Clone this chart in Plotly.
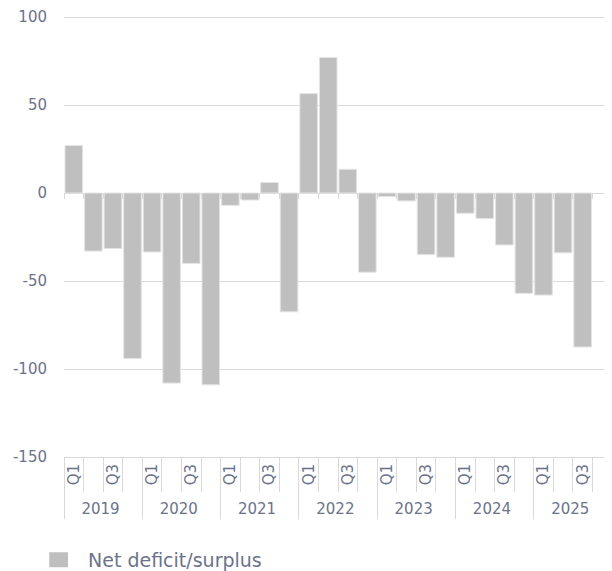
import plotly.graph_objects as go

years = ["2019", "2020", "2021", "2022", "2023", "2024", "2025"]
quarters = ["Q1", "Q2", "Q3", "Q4"]
quarter_labels = ["Q1", " ", "Q3", "  "]  # Q2/Q4 labels are skipped in the original
values = [
    27, -33, -31.5, -94,
    -33.5, -108, -40, -109,
    -7, -4, 6, -67.5,
    56.5, 77, 13.5, -45,
    -2, -4.5, -35, -36.5,
    -11.5, -14.5, -29.5, -57,
    -58, -34, -87.5, None,
]
series_name = "Net deficit/surplus"
y_ticks = [-150, -100, -50, 0, 50, 100]
y_tick_text = ["-150", "-100", "-50", "0", "50", "100"]

outer = [y for y in years for _ in quarters]
inner = [q for _ in years for q in quarter_labels]

TEXT = "#6b7389"
GRID = "#d9d9d9"
FONT = "DejaVu Sans"

fig = go.Figure()
fig.add_trace(go.Bar(
    x=[outer, inner], y=values, name=series_name,
    marker=dict(color="#bfbfbf", line=dict(color="#e4e4e4", width=1)),
    showlegend=False,
))
# dummy trace so the zero-crossing tick axis is drawn
fig.add_trace(go.Scatter(x=[None], y=[None], xaxis="x2", showlegend=False, hoverinfo="skip"))

n = len(values)
y_min, y_max = -150, 100.6  # small headroom so the 100 gridline is drawn
zero_pos = (0 - y_min) / (y_max - y_min)

# page body has an 8px margin, so the figure is sized to fit inside the window
fig.update_layout(
    width=604, height=563,
    margin=dict(l=56, r=0, t=8, b=114),
    paper_bgcolor="white", plot_bgcolor="white",
    font=dict(family=FONT, color=TEXT, size=15),
    bargap=0.1,
    yaxis=dict(
        range=[y_min, y_max], tickvals=y_ticks, ticktext=y_tick_text,
        showgrid=True, gridcolor=GRID, gridwidth=1,
        zeroline=True, zerolinecolor=GRID, zerolinewidth=1,
        tickfont=dict(size=15, color=TEXT), ticks="", ticklabelstandoff=16,
        ticklabeloverflow="allow", automargin=False,
    ),
    xaxis=dict(
        type="multicategory", showline=True, linecolor=GRID, linewidth=1,
        ticks="outside", tickson="boundaries", ticklen=34, tickcolor=GRID,
        dividercolor=GRID, dividerwidth=1,
        tickangle=-90, tickfont=dict(size=15, color=TEXT),
        showgrid=False, automargin=False,
    ),
    xaxis2=dict(
        overlaying="x", anchor="free", position=zero_pos, side="bottom",
        range=[-0.5, n - 0.5], tickvals=[i - 0.5 for i in range(n + 1)],
        ticks="outside", ticklen=5, tickcolor=GRID, tickwidth=1, showticklabels=False,
        showgrid=False, zeroline=False, showline=False, automargin=False,
    ),
)

# legend drawn manually (swatch + text)
fig.add_shape(type="rect", xref="paper", yref="paper",
              x0=-0.027, x1=0.0073, y0=-0.250, y1=-0.216,
              fillcolor="#bfbfbf", line=dict(width=0))
fig.add_annotation(text=series_name, xref="paper", yref="paper",
                   x=0.040, y=-0.233, xanchor="left", yanchor="middle",
                   showarrow=False, font=dict(size=19, color=TEXT, family=FONT))

fig.write_html("out.html")
